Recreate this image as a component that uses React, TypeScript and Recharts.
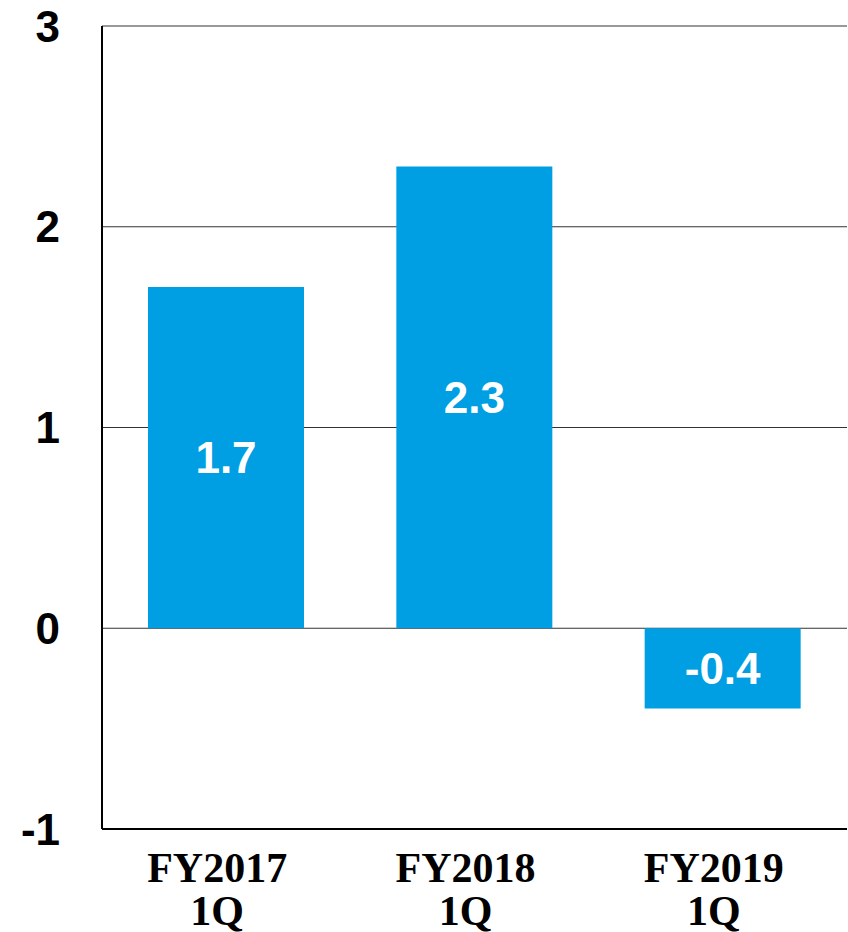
import { BarChart, Bar, XAxis, YAxis, CartesianGrid, LabelList } from "recharts"

const periods = ["FY2017\n1Q", "FY2018\n1Q", "FY2019\n1Q"]
const values = [1.7, 2.3, -0.4]
const yTicks = [-1, 0, 1, 2, 3]

const data = periods.map((period, i) => ({ period, value: values[i] }))

const sans = "'Liberation Sans', Arial, sans-serif"
const serif = "'Liberation Serif', 'Times New Roman', serif"

function PeriodTick(props: any) {
  const { x, y, payload } = props
  const lines = String(payload.value).split("\n")
  return (
    <g transform={`translate(${x - 9},${y})`}>
      {lines.map((line: string, i: number) => (
        <text
          key={i}
          x={0}
          y={53 + i * 43}
          textAnchor="middle"
          fill="#000"
          fontFamily={serif}
          fontWeight="bold"
          fontSize={42}
        >
          {line}
        </text>
      ))}
    </g>
  )
}

export default function App() {
  return (
    <div style={{ position: "absolute", left: 0, top: 0, background: "#fff" }}>
      <BarChart
        width={848}
        height={932}
        data={data}
        margin={{ top: 26, right: 1, left: 12, bottom: 0 }}
        barSize={156}
      >
        <CartesianGrid vertical={false} stroke="#333" strokeWidth={1} />
        <XAxis
          dataKey="period"
          height={103}
          tickSize={0}
          tickMargin={0}
          tickLine={false}
          axisLine={{ stroke: "#000", strokeWidth: 2 }}
          tick={<PeriodTick />}
          interval={0}
        />
        <XAxis
          xAxisId="top"
          dataKey="period"
          orientation="top"
          height={0}
          tick={false}
          tickLine={false}
          axisLine={{ stroke: "#000", strokeWidth: 2 }}
        />
        <YAxis
          domain={[-1, 3]}
          ticks={yTicks}
          width={90}
          tickSize={0}
          tickMargin={42}
          tickLine={false}
          axisLine={{ stroke: "#000", strokeWidth: 2 }}
          tick={{ fill: "#000", fontFamily: sans, fontWeight: "bold", fontSize: 44 }}
          interval={0}
        />
        <YAxis
          yAxisId="right"
          orientation="right"
          domain={[-1, 3]}
          width={0}
          tick={false}
          tickLine={false}
          axisLine={{ stroke: "#000", strokeWidth: 2 }}
        />
        <Bar dataKey="value" fill="#009FE3" isAnimationActive={false}>
          <LabelList
            dataKey="value"
            position="center"
            fill="#fff"
            fontFamily={sans}
            fontWeight="bold"
            fontSize={44}
          />
        </Bar>
      </BarChart>
    </div>
  )
}
